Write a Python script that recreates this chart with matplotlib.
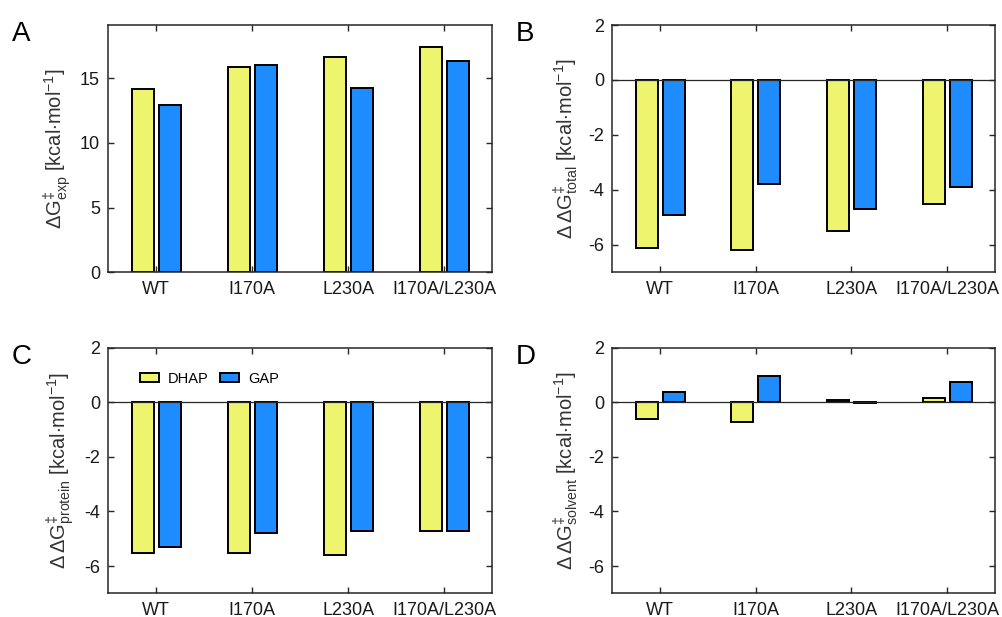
import matplotlib
matplotlib.use("Agg")
import matplotlib.pyplot as plt
import numpy as np

plt.rcParams['font.family'] = ['Liberation Sans', 'DejaVu Sans']
plt.rcParams['mathtext.fontset'] = 'custom'
plt.rcParams['mathtext.rm'] = 'Liberation Sans'
plt.rcParams['mathtext.it'] = 'Liberation Sans:italic'
plt.rcParams['mathtext.bf'] = 'Liberation Sans:bold'
plt.rcParams['axes.unicode_minus'] = False

categories = ['WT', 'I170A', 'L230A', 'I170A/L230A']
series_names = ['DHAP', 'GAP']

dG_exp_dhap = [14.14, 15.84, 16.64, 17.41]
dG_exp_gap = [12.93, 16.04, 14.24, 16.33]

ddG_total_dhap = [-6.11, -6.19, -5.50, -4.50]
ddG_total_gap = [-4.92, -3.80, -4.71, -3.90]

ddG_protein_dhap = [-5.51, -5.51, -5.61, -4.70]
ddG_protein_gap = [-5.31, -4.80, -4.70, -4.70]

ddG_solvent_dhap = [-0.62, -0.72, 0.08, 0.17]
ddG_solvent_gap = [0.38, 0.98, -0.01, 0.74]

yellow = '#EEF46E'
blue = '#1E8CFF'
dark = '#262626'

W, H = 1003, 617
fig = plt.figure(figsize=(W / 100, H / 100), dpi=100)

def px_axes(l, t, r, b):
    return fig.add_axes([l / W, 1 - b / H, (r - l) / W, (b - t) / H])

panels = [
    ('A', (108.3, 25, 492.3, 272.3), dG_exp_dhap, dG_exp_gap, (0, 19.1), [0, 5, 10, 15],
     r'$\Delta\mathrm{G}^{\ddagger}_{\mathrm{exp}}$ [kcal$\cdot$mol$^{-1}$]', False),
    ('B', (612.3, 25, 995, 272.3), ddG_total_dhap, ddG_total_gap, (-7, 2), [-6, -4, -2, 0, 2],
     r'$\Delta\,\Delta\mathrm{G}^{\ddagger}_{\mathrm{total}}$ [kcal$\cdot$mol$^{-1}$]', True),
    ('C', (108.3, 347.7, 492.3, 593.3), ddG_protein_dhap, ddG_protein_gap, (-7, 2), [-6, -4, -2, 0, 2],
     r'$\Delta\,\Delta\mathrm{G}^{\ddagger}_{\mathrm{protein}}$ [kcal$\cdot$mol$^{-1}$]', True),
    ('D', (612.3, 347.7, 995, 593.3), ddG_solvent_dhap, ddG_solvent_gap, (-7, 2), [-6, -4, -2, 0, 2],
     r'$\Delta\,\Delta\mathrm{G}^{\ddagger}_{\mathrm{solvent}}$ [kcal$\cdot$mol$^{-1}$]', True),
]

x = np.arange(1, len(categories) + 1)
off = 0.142
bw = 0.23

for letter, box, s1, s2, ylim, yticks, ylabel, zeroline in panels:
    ax = px_axes(*box)
    ax.bar(x - off, s1, bw, color=yellow, edgecolor='black', linewidth=1.4, label=series_names[0], zorder=2)
    ax.bar(x + off, s2, bw, color=blue, edgecolor='black', linewidth=1.4, label=series_names[1], zorder=2)
    if zeroline:
        ax.axhline(0, color=dark, linewidth=0.9, zorder=3)
    ax.set_xlim(0.5, 4.5)
    ax.set_ylim(*ylim)
    ax.set_xticks(x)
    ax.set_xticklabels(categories)
    ax.set_yticks(yticks)
    ax.tick_params(direction='in', top=True, right=True, length=4, width=1.0,
                   colors=dark, labelsize=13, pad=6, labelcolor='#1a1a1a')
    for sp in ax.spines.values():
        sp.set_color(dark)
        sp.set_linewidth(1.1)
    ax.set_ylabel(ylabel, fontsize=14.5, color='#333333', labelpad=5)
    fig.text(box[0] / W - 0.096, 1 - (box[1] - 4) / H, letter, fontsize=20,
             ha='left', va='top', color='black')
    if letter == 'C':
        ax.legend(loc='upper left', bbox_to_anchor=(0.068, 0.925), ncol=2, frameon=False,
                  fontsize=10.5, handlelength=1.3, handleheight=0.6, columnspacing=0.8,
                  handletextpad=0.6, borderaxespad=0.0)

fig.savefig('out.png', dpi=100)
